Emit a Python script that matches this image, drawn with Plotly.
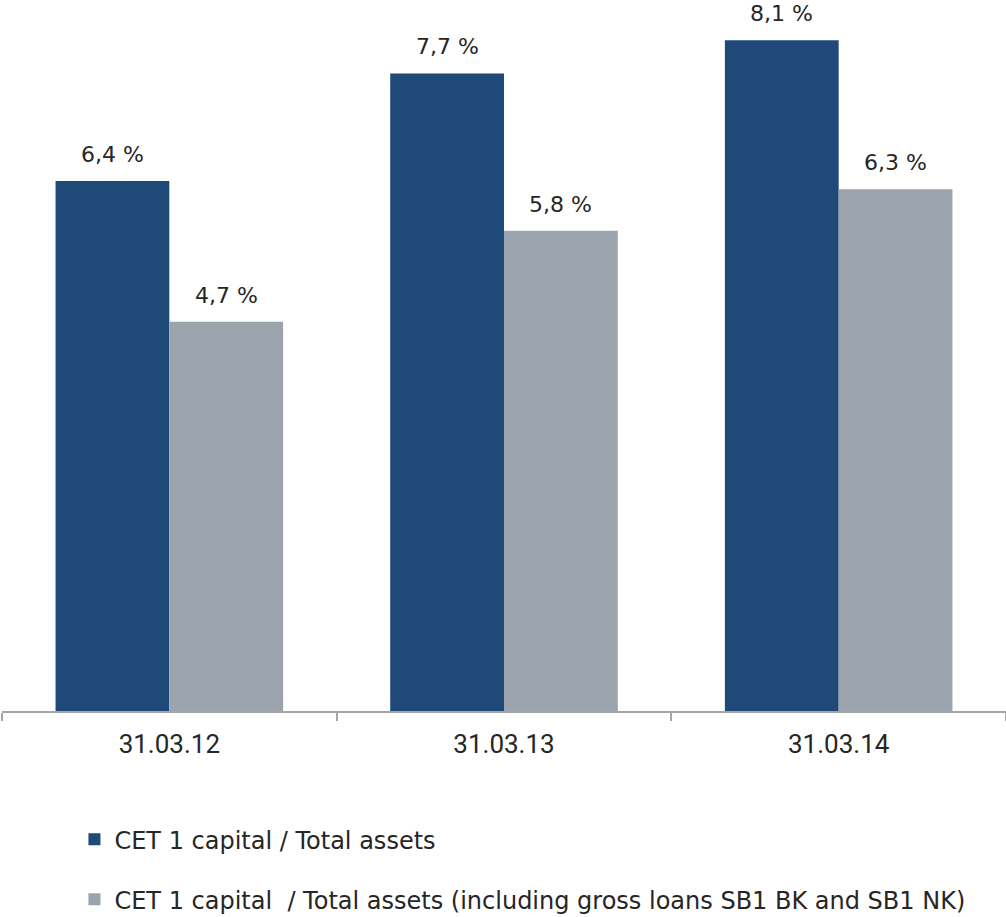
import plotly.graph_objects as go

# Chart data
dates = ["31.03.12", "31.03.13", "31.03.14"]
cet1_total_assets = [6.4, 7.7, 8.1]
cet1_incl_loans = [4.7, 5.8, 6.3]
series_names = [
    "CET 1 capital / Total assets",
    "CET 1 capital \u00a0/ Total assets (including gross loans SB1 BK and SB1 NK)",
]

DARK = "#1F4979"
GREY = "#9BA4AD"
LABEL_FONT = dict(family="DejaVu Sans", size=22, color="#262626")

x_pos = list(range(len(dates)))
bargap = 0.32
half = (1 - bargap) / 4  # centre offset of each bar within its group


def pct(v):
    return f"{v:.1f}".replace(".", ",") + " %"


fig = go.Figure()
fig.add_trace(go.Bar(x=x_pos, y=cet1_total_assets, name=series_names[0],
                     marker=dict(color=DARK, line=dict(width=0)),
                     legendgroup="a"))
fig.add_trace(go.Bar(x=x_pos, y=cet1_incl_loans, name=series_names[1],
                     marker=dict(color=GREY, line=dict(width=0)),
                     legendgroup="b"))

# Value labels above bars
for xi, v in zip(x_pos, cet1_total_assets):
    fig.add_annotation(x=xi - half, y=v, text=pct(v), showarrow=False,
                       yanchor="bottom", yshift=12, font=LABEL_FONT)
for xi, v in zip(x_pos, cet1_incl_loans):
    fig.add_annotation(x=xi + half, y=v, text=pct(v), showarrow=False,
                       yanchor="bottom", yshift=12, font=LABEL_FONT)

fig.update_layout(
    width=1006, height=917,
    margin=dict(l=2, r=0, t=0, b=206, autoexpand=False),
    paper_bgcolor="white", plot_bgcolor="white",
    barmode="group", bargap=bargap, bargroupgap=0,
    showlegend=True,
    legend=dict(xref="container", yref="container",
                x=0.074, y=0.109, xanchor="left", yanchor="top",
                orientation="v", tracegroupgap=26,
                font=dict(family="DejaVu Sans", size=24, color="#262626"),
                bgcolor="rgba(0,0,0,0)"),
    xaxis=dict(
        range=[-0.5, 2.5],
        tickmode="array", tickvals=x_pos, ticktext=dates,
        ticks="", ticklabelstandoff=9,
        tickfont=dict(family="Roboto", size=26, color="#262626"),
        showline=True, linecolor="#A6A6A6", linewidth=1.5,
        showgrid=False, zeroline=False,
        minor=dict(ticks="outside", tick0=0.5, dtick=1, ticklen=8,
                   tickcolor="#A6A6A6", tickwidth=1.5, showgrid=False),
    ),
    yaxis=dict(range=[0, 8.587], visible=False, showgrid=False),
)

fig.write_html("out.html")
